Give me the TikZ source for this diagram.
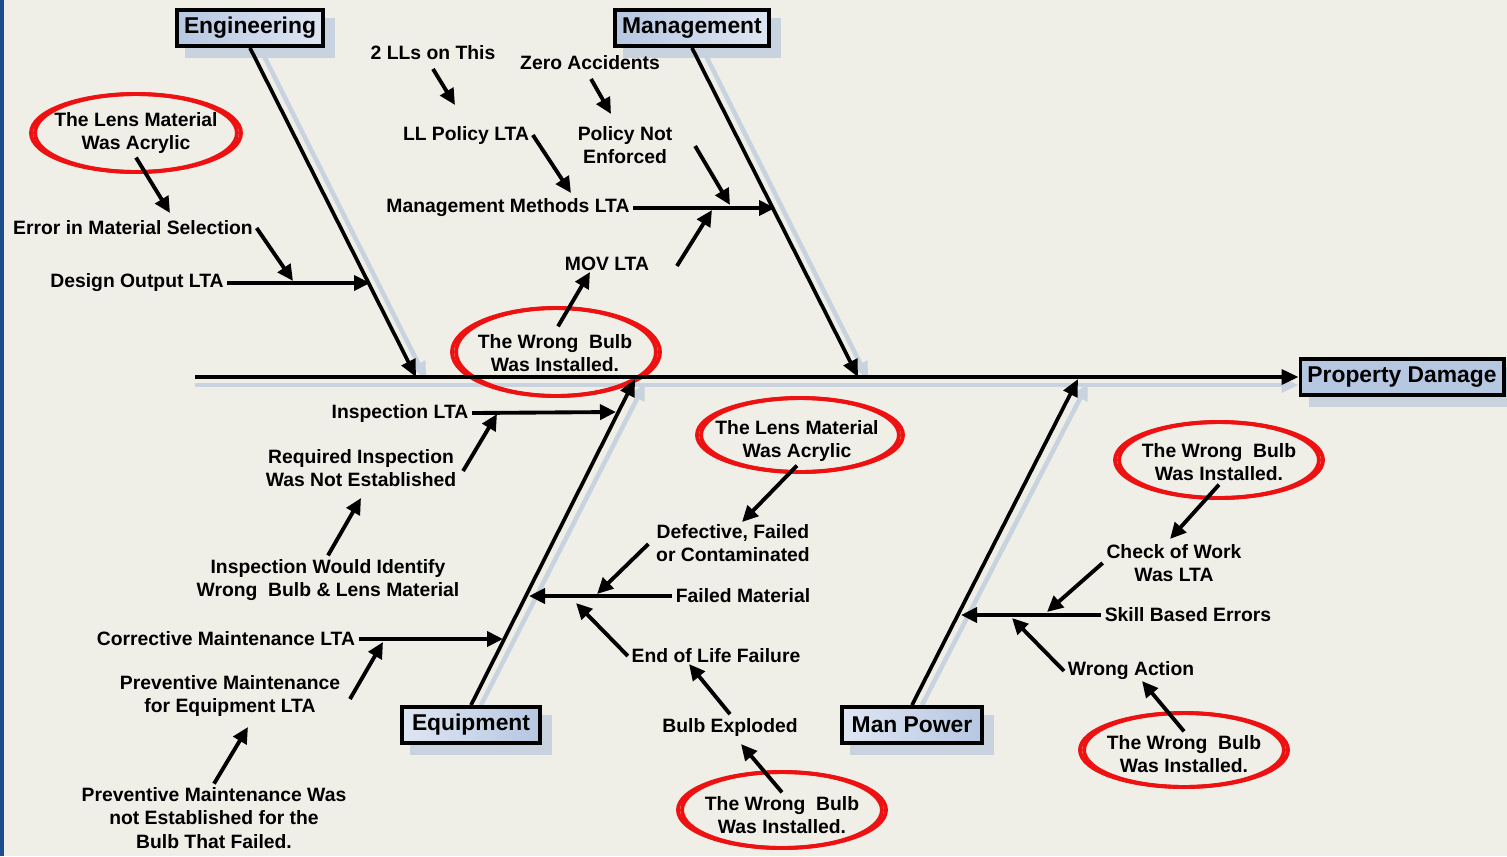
\documentclass[tikz,border=0pt]{standalone}
\usepackage{fontspec}
\setmainfont{Liberation Sans}
\usetikzlibrary{positioning,shapes.geometric,arrows.meta,backgrounds,calc}

\begin{document}
\begin{tikzpicture}[x=0.02cm, y=-0.02cm]
       \definecolor{paper}{HTML}{EFEFE7}
       \definecolor{frameblue}{HTML}{1D4C8A}
       \definecolor{boxdark}{HTML}{B6C7E1}
       \definecolor{boxlight}{HTML}{DFE6F2}
       \definecolor{shadowblue}{HTML}{C8D3DF}
       \definecolor{ringred}{HTML}{EE1111}

       \newcommand{\ringat}[5]{
         \node [redring, minimum width=#4*0.02cm, minimum height=#5*0.02cm] (#1) at (#2,#3) {};
         \draw [ringred, line width=2.2pt] (#1.center) ellipse [x radius=#4*0.01cm-0.08cm, y radius=#5*0.01cm];
       }
       \newcommand{\boxshadow}[1]{\fill [shadowblue] ([shift={(10,10)}]#1.north west) rectangle ([shift={(10,10)}]#1.south east);}

       \tikzstyle{cause}     = [font=\fontsize{11}{13.3}\selectfont\bfseries, align=center, inner sep=2pt]
       \tikzstyle{headbox}   = [draw=black, line width=2.2pt, font=\fontsize{13}{15}\selectfont\bfseries, minimum height=0.72cm, inner xsep=0.14cm, inner ysep=0pt]
       \tikzstyle{bone}      = [line width=2.1pt, -{Triangle[length=0.34cm,width=0.3cm]}]
       \tikzstyle{boneshade} = [line width=2.6pt, draw=shadowblue, -{Triangle[length=0.34cm,width=0.3cm]}]
       \tikzstyle{connector} = [line width=2.2pt, -{Triangle[length=0.32cm,width=0.3cm]}]
       \tikzstyle{redring}   = [ellipse, draw=ringred, line width=2.2pt, inner sep=0pt]

       \useasboundingbox (0,0) rectangle (1507,856);

       % heads of the bones
       \node [headbox, left color=boxdark, right color=boxlight] (eng) at (250,28) {Engineering};
       \node [headbox, left color=boxdark, right color=boxlight] (mgmt) at (692,28) {Management};
       \node [headbox, left color=boxlight, right color=boxdark, inner xsep=0.2cm] (equip) at (471,725) {Equipment};
       \node [headbox, left color=boxlight, right color=boxdark, inner xsep=0.2cm] (manpower) at (912,725) {Man Power};
       \node [headbox, fill=boxdark] (pd) at (1402,377) {Property Damage};

       \coordinate (spinestart) at (195,377);
       \coordinate (engtip)     at (416,377);
       \coordinate (mgmttip)    at (858,377);
       \coordinate (equiptip)   at (635,379);
       \coordinate (mantip)     at (1078,379);

       % red rings
       \ringat{lens1ring}{136}{133}{210}{78}
       \ringat{bulb1ring}{556}{352}{208}{88}
       \ringat{lens2ring}{800}{435}{206}{74}
       \ringat{bulb2ring}{782}{810}{208}{76}
       \ringat{bulb3ring}{1219}{460}{208}{76}
       \ringat{bulb4ring}{1184}{750}{208}{74}

       % engineering
       \node [cause] (design) at (137,283) {Design Output LTA};
       \node [cause] (errsel) at (133,228) {Error in Material Selection};
       \node [cause] (lens1)  at (136,133) {The Lens Material\\Was Acrylic};
       \coordinate (designj) at (370,283);
       \coordinate (errj)    at (293,281);
       \coordinate (lens1j)  at (170,213);

       % management
       \node [cause] (mgmtmeth) at (508,208) {Management Methods LTA};
       \node [cause] (llpolicy) at (466,135) {LL Policy LTA};
       \node [cause] (twolls)   at (433,53)  {2 LLs on This};
       \node [cause] (zeroacc)  at (590,63)  {Zero Accidents};
       \node [cause] (policy)   at (625,145) {Policy Not\\Enforced};
       \node [cause] (mov)      at (607,264) {MOV LTA};
       \node [cause] (bulb1)    at (555,353) {The Wrong~ Bulb\\Was Installed.};
       \coordinate (mgmtj)   at (775,208);
       \coordinate (llj)     at (571,193);
       \coordinate (twollsj) at (455,105);
       \coordinate (zeroj)   at (611,114);
       \coordinate (polj)    at (730,205);
       \coordinate (movj)    at (712,210);
       \coordinate (bulb1j)  at (590,272);

       % equipment
       \node [cause] (insp)      at (400,413) {Inspection LTA};
       \node [cause] (reqinsp)   at (361,468) {Required Inspection\\Was Not Established};
       \node [cause] (inspwould) at (328,580) {Inspection Would Identify\\Wrong~ Bulb \& Lens Material};
       \node [cause] (corrmaint) at (226,639) {Corrective Maintenance LTA};
       \node [cause] (prevmaint) at (230,696) {Preventive Maintenance\\for Equipment LTA};
       \node [cause] (prevwas)   at (214,818) {Preventive Maintenance Was\\not Established for the\\Bulb That Failed.};
       \node [cause] (failmat)   at (743,596) {Failed Material};
       \node [cause] (defective) at (733,543) {Defective, Failed\\or Contaminated};
       \node [cause] (lens2)     at (797,441) {The Lens Material\\Was Acrylic};
       \node [cause] (endlife)   at (716,656) {End of Life Failure};
       \node [cause] (bulbexp)   at (730,727) {Bulb Exploded};
       \node [cause] (bulb2)     at (782,815) {The Wrong~ Bulb\\Was Installed.};
       \coordinate (inspj)     at (616,412);
       \coordinate (reqj)      at (497,414);
       \coordinate (wouldj)    at (361,498);
       \coordinate (corrj)     at (503,639);
       \coordinate (prevj)     at (383,642);
       \coordinate (prevwasj)  at (248,727);
       \coordinate (failj)     at (529,596);
       \coordinate (defj)      at (597,594);
       \coordinate (lens2j)    at (742,522);
       \coordinate (endj)      at (576,603);
       \coordinate (bulbexpj)  at (689,664);
       \coordinate (bulb2j)    at (741,744);

       % man power
       \node [cause] (skill)     at (1188,615) {Skill Based Errors};
       \node [cause] (checkwork) at (1174,563) {Check of Work\\Was LTA};
       \node [cause] (bulb3)     at (1219,462) {The Wrong~ Bulb\\Was Installed.};
       \node [cause] (wrongact)  at (1131,671) {Wrong Action};
       \node [cause] (bulb4)     at (1184,754) {The Wrong~ Bulb\\Was Installed.};
       \coordinate (skillj)  at (961,615);
       \coordinate (checkj)  at (1047,612);
       \coordinate (bulb3j)  at (1170,539);
       \coordinate (wrongj)  at (1012,618);
       \coordinate (bulb4j)  at (1142,681);

       % shadows and paper
       \begin{scope}[on background layer]
         \fill [paper] (0,0) rectangle (1507,856);
         \fill [frameblue] (0,0) rectangle (4,856);
         \boxshadow{eng}
         \boxshadow{mgmt}
         \boxshadow{equip}
         \boxshadow{manpower}
         \boxshadow{pd}
         \draw [boneshade] ($(spinestart)+(0,8)$) -- ($(pd.west)+(0,8)$);
         \draw [boneshade] ($(eng.south)+(10,0)$) -- ($(engtip)+(10,2)$);
         \draw [boneshade] ($(mgmt.south)+(10,0)$) -- ($(mgmttip)+(10,2)$);
         \draw [boneshade] ($(equip.north)+(10,0)$) -- ($(equiptip)+(10,4)$);
         \draw [boneshade] ($(manpower.north)+(10,0)$) -- ($(mantip)+(10,4)$);
       \end{scope}

       % bones
       \draw [bone] (spinestart) -- (pd.west);
       \draw [bone] (eng.south) -- (engtip);
       \draw [bone] (mgmt.south) -- (mgmttip);
       \draw [bone] (equip.north) -- (equiptip);
       \draw [bone] (manpower.north) -- (mantip);

       % causes
       \draw [connector] (design.east) -- (designj);
       \draw [connector] (errsel.east) -- (errj);
       \draw [connector] (lens1.south) -- (lens1j);

       \draw [connector] (mgmtmeth.east) -- (mgmtj);
       \draw [connector] (llpolicy.east) -- (llj);
       \draw [connector] ([shift={(0,5)}]twolls.south) -- (twollsj);
       \draw [connector] ([shift={(1,5)}]zeroacc.south) -- (zeroj);
       \draw [connector] ([shift={(19,1)}]policy.east) -- (polj);
       \draw [connector] ([shift={(24,2)}]mov.east) -- (movj);
       \draw [connector] ([shift={(3,-4)}]bulb1.north) -- (bulb1j);

       \draw [connector] (insp.east) -- (inspj);
       \draw [connector] ([shift={(3,3)}]reqinsp.east) -- (reqj);
       \draw [connector] (inspwould.north) -- (wouldj);
       \draw [connector] (corrmaint.east) -- (corrj);
       \draw [connector] ([shift={(6,3)}]prevmaint.east) -- (prevj);
       \draw [connector] (prevwas.north) -- (prevwasj);
       \draw [connector] (failmat.west) -- (failj);
       \draw [connector] ([shift={(-4,1)}]defective.west) -- (defj);
       \draw [connector] (lens2.south) -- (lens2j);
       \draw [connector] (endlife.west) -- (endj);
       \draw [connector] (bulbexp.north) -- (bulbexpj);
       \draw [connector] (bulb2.north) -- (bulb2j);

       \draw [connector] (skill.west) -- (skillj);
       \draw [connector] (checkwork.west) -- (checkj);
       \draw [connector] (bulb3.south) -- (bulb3j);
       \draw [connector] (wrongact.west) -- (wrongj);
       \draw [connector] (bulb4.north) -- (bulb4j);
\end{tikzpicture}
\end{document}
